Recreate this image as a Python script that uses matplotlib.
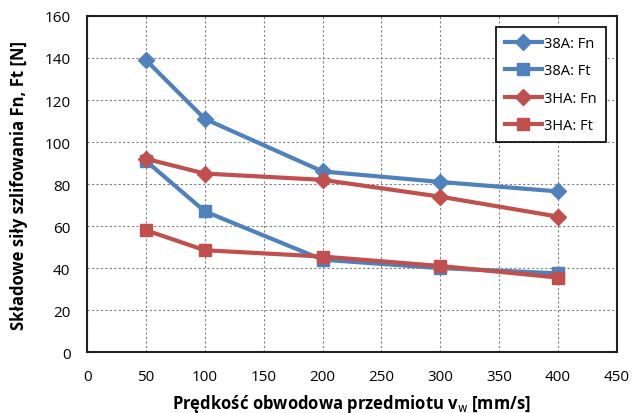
import numpy as np
import matplotlib.pyplot as plt

plt.rcParams['font.family'] = ['Open Sans', 'DejaVu Sans']

# Dane
vw = [50, 100, 200, 300, 400]
fn_38a = [139, 111, 86, 81, 76.5]
ft_38a = [91, 67, 44, 40, 37.5]
fn_3ha = [92, 85, 82, 74, 64.5]
ft_3ha = [58, 48.5, 45.5, 41, 35.5]

blue = '#4F81BD'
red = '#C0504D'

fig = plt.figure(figsize=(6.36, 4.14), dpi=100)
ax = fig.add_axes([0.137, 0.147, 0.833, 0.812])

ax.plot(vw, fn_38a, color=blue, lw=3, marker='D', ms=8, label='38A: Fn')
ax.plot(vw, ft_38a, color=blue, lw=3, marker='s', ms=9, label='38A: Ft')
ax.plot(vw, fn_3ha, color=red, lw=3, marker='D', ms=8, label='3HA: Fn')
ax.plot(vw, ft_3ha, color=red, lw=3, marker='s', ms=9, label='3HA: Ft')

ax.set_xlim(0, 450)
ax.set_ylim(0, 160)
ax.set_xticks(np.arange(0, 451, 50))
ax.set_yticks(np.arange(0, 161, 20))
ax.grid(True, color='#808080', ls=(0, (2, 2)), lw=0.8)
ax.tick_params(labelsize=11, length=0, pad=12)
for s in ax.spines.values():
    s.set_linewidth(1.5)
    s.set_color('#202020')

ax.set_xlabel('Prędkość obwodowa przedmiotu v$_\\mathrm{w}$ [mm/s]', fontsize=12,
              fontweight='bold', labelpad=6)
ax.set_ylabel('Składowe siły szlifowania Fn, Ft [N]', fontsize=12, fontweight='bold',
              labelpad=12)

leg = ax.legend(loc='upper right', bbox_to_anchor=(0.979, 0.967), fontsize=10.5,
                fancybox=False, framealpha=1, edgecolor='black', handlelength=2.5,
                labelspacing=0.85, borderpad=0.6, handletextpad=0.2,
                borderaxespad=0)
leg.get_frame().set_linewidth(1.2)

plt.savefig('out.png', dpi=100)
